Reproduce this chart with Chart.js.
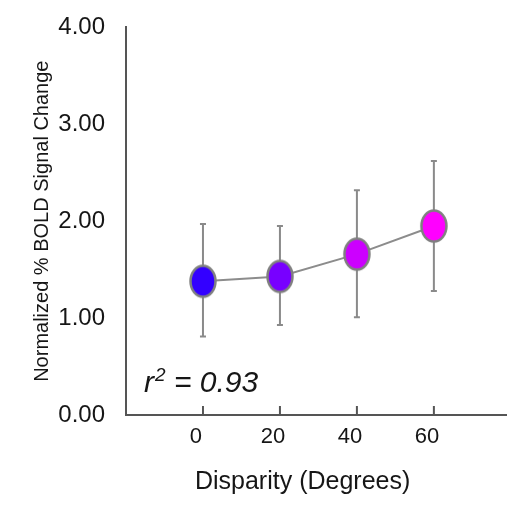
<!DOCTYPE html>
<html>
<head>
<meta charset="utf-8">
<script src="https://cdn.jsdelivr.net/npm/chart.js@4.4.1/dist/chart.umd.min.js"></script>
<style>
html, body { margin: 0; padding: 0; background: #fff; overflow: hidden; }
canvas { display: block; }
</style>
</head>
<body>
<canvas id="disp" width="507" height="507"></canvas>
<script>
// values
const disparity = [0, 20, 40, 60]
const boldMean = [1.38, 1.43, 1.66, 1.95]
const boldHigh = [1.97, 1.95, 2.32, 2.62]
const boldLow = [0.81, 0.93, 1.01, 1.28]
const yTicks = [0, 1, 2, 3, 4]
const dotColors = ['#3300ff', '#7800ff', '#cc00ff', '#ff00ff']
const rSquared = '0.93'

const font = "'Liberation Sans', Arial, sans-serif"
const ink = '#161616'
const axisGrey = '#555555'

// oval markers, a bit taller than wide like the original
function oval(color) {
    const c = document.createElement('canvas')
    c.width = 32
    c.height = 38
    const ctx = c.getContext('2d')
    ctx.beginPath()
    ctx.ellipse(16, 19, 12.5, 15.5, 0, 0, Math.PI * 2)
    ctx.fillStyle = color
    ctx.fill()
    ctx.lineWidth = 2.5
    ctx.strokeStyle = '#808080'
    ctx.stroke()
    return c
}

const errorBars = {
    id: 'errorBars',
    beforeDatasetsDraw(chart) {
        const { ctx, scales: { x, y } } = chart
        ctx.save()
        ctx.strokeStyle = '#8a8a8a'
        ctx.lineWidth = 2
        disparity.forEach((d, i) => {
            const px = x.getPixelForValue(d)
            const top = y.getPixelForValue(boldHigh[i])
            const bot = y.getPixelForValue(boldLow[i])
            ctx.beginPath()
            ctx.moveTo(px, top)
            ctx.lineTo(px, bot)
            ctx.moveTo(px - 3, top)
            ctx.lineTo(px + 3, top)
            ctx.moveTo(px - 3, bot)
            ctx.lineTo(px + 3, bot)
            ctx.stroke()
        })
        ctx.restore()
    }
}

// tick marks point up into the plot
const innerTicks = {
    id: 'innerTicks',
    afterDraw(chart) {
        const { ctx, scales: { x }, chartArea } = chart
        ctx.save()
        ctx.strokeStyle = axisGrey
        ctx.lineWidth = 2
        x.ticks.forEach((t) => {
            const px = x.getPixelForValue(t.value)
            ctx.beginPath()
            ctx.moveTo(px, chartArea.bottom)
            ctx.lineTo(px, chartArea.bottom - 9)
            ctx.stroke()
        })
        ctx.restore()
    }
}

const rLabel = {
    id: 'rLabel',
    afterDraw(chart) {
        const { ctx, chartArea } = chart
        let px = chartArea.left + 18
        const base = chartArea.bottom - 23
        ctx.save()
        ctx.fillStyle = ink
        ctx.textBaseline = 'alphabetic'
        ctx.font = 'italic 30px ' + font
        ctx.fillText('r', px, base)
        px += ctx.measureText('r').width + 1
        ctx.font = 'italic 19px ' + font
        ctx.fillText('2', px, base - 11)
        px += ctx.measureText('2').width
        ctx.font = 'italic 30px ' + font
        ctx.fillText(' = ' + rSquared, px, base)
        ctx.restore()
    }
}

new Chart(
    document.getElementById('disp'),
    {
        type: 'line',
        data: {
            datasets: [{
                label: 'BOLD',
                data: disparity.map((d, i) => ({ x: d, y: boldMean[i] })),
                borderColor: '#8c8c8c',
                borderWidth: 2,
                pointStyle: dotColors.map(oval),
                pointRadius: 15,
                fill: false,
                tension: 0,
            }]
        },
        options: {
            responsive: false,
            animation: false,
            events: [],
            layout: {
                autoPadding: false,
                padding: { top: 25, right: 0, bottom: 0, left: 0 }
            },
            plugins: {
                legend: { display: false },
                tooltip: { enabled: false },
            },
            scales: {
                x: {
                    type: 'linear',
                    min: -20,
                    max: 79,
                    afterBuildTicks: (s) => { s.ticks = disparity.map((v) => ({ value: v })) },
                    afterFit: (s) => {
                        s.height = 92
                        s.paddingLeft = 0
                        s.paddingRight = 0
                    },
                    grid: { display: false },
                    border: { display: true, color: axisGrey, width: 2 },
                    ticks: {
                        color: ink,
                        padding: 1,
                        labelOffset: -7,
                        font: { family: font, size: 22 },
                    },
                    title: {
                        display: true,
                        text: 'Disparity (Degrees)    ',
                        color: ink,
                        font: { family: font, size: 25 },
                        padding: { top: 0, bottom: 10 },
                    },
                },
                y: {
                    min: 0,
                    max: 4,
                    afterBuildTicks: (s) => { s.ticks = yTicks.map((v) => ({ value: v })) },
                    afterFit: (s) => { s.width = 126 },
                    grid: { display: false },
                    border: { display: true, color: axisGrey, width: 2 },
                    ticks: {
                        color: ink,
                        padding: 13,
                        font: { family: font, size: 24 },
                        callback: (v) => Number(v).toFixed(2),
                    },
                    title: {
                        display: true,
                        text: 'Normalized % BOLD Signal Change',
                        color: ink,
                        font: { family: font, size: 20 },
                        padding: { top: 30, bottom: 0 },
                    },
                },
            },
        },
        plugins: [errorBars, innerTicks, rLabel],
    }
)
</script>
</body>
</html>
